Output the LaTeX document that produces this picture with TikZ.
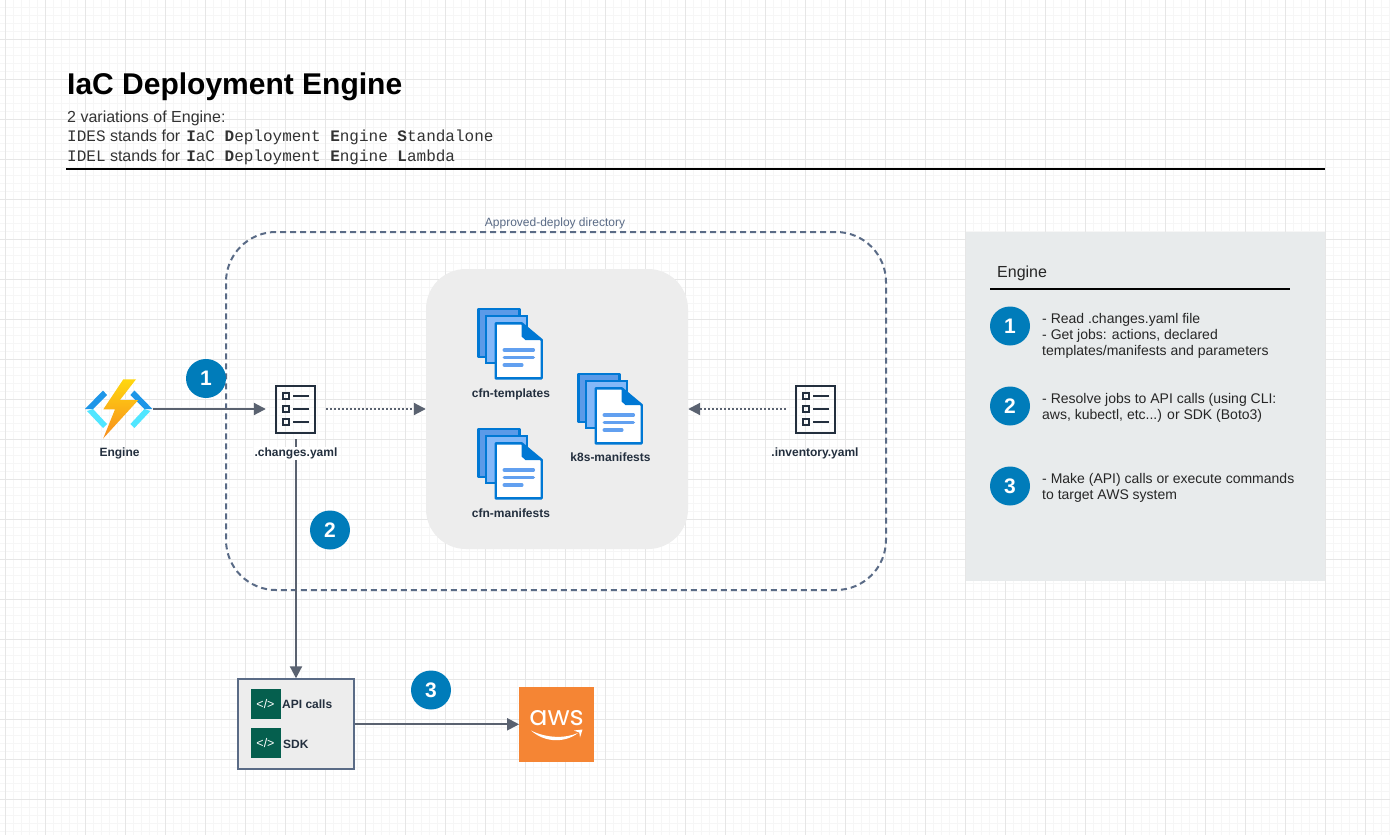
\documentclass[tikz,border=0pt]{standalone}
\usepackage{fontspec}
\setmainfont{Liberation Sans}
\setmonofont{Liberation Mono}
\newfontfamily\awsfont{Poppins}
\usetikzlibrary{arrows.meta,shapes.geometric}
\definecolor{gridmajor}{HTML}{E6E6E6}
\definecolor{gridminor}{HTML}{F6F6F6}
\definecolor{flowgray}{HTML}{5A6270}
\definecolor{slateblue}{HTML}{5A6B86}
\definecolor{inkdark}{HTML}{232F3E}
\definecolor{badgeblue}{HTML}{007CBA}
\definecolor{docblue}{HTML}{0078D4}
\definecolor{docback}{HTML}{5B9AE8}
\definecolor{docmid}{HTML}{84B8F8}
\definecolor{docline}{HTML}{62A0F0}
\definecolor{codegreen}{HTML}{055F4E}
\definecolor{awsorange}{HTML}{F58534}
\definecolor{panelgray}{HTML}{E8EBEC}
\definecolor{chevronlight}{HTML}{50E6FF}
\definecolor{chevrondark}{HTML}{1E96E8}
\definecolor{bolttop}{HTML}{FFD70F}
\definecolor{boltbottom}{HTML}{F78D1E}
\tikzset{
	flow/.style={draw=flowgray,line width=2pt,-{Triangle[length=12pt,width=12pt]}},
	flowdot/.style={flow,dash pattern=on 2pt off 2pt},
	badge/.style={ellipse,fill=badgeblue,text=white,inner sep=0pt,minimum width=40pt,minimum height=39pt,font=\fontsize{21}{24}\selectfont\bfseries},
	slot/.style={inner sep=0pt,minimum width=60pt,minimum height=60pt},
	iconlabel/.style={anchor=base,text=inkdark,inner sep=1pt,font=\fontsize{12}{14}\selectfont\bfseries},
	headtext/.style={anchor=base west,inner sep=0pt,font=\fontsize{16}{19}\selectfont},
	paneltext/.style={anchor=west,align=left,inner sep=0pt,text=black!85,font=\fontsize{14}{16}\selectfont},
	codebox/.style={fill=codegreen,text=white,inner sep=0pt,minimum size=30pt,font=\fontsize{12.5}{16}\selectfont},
	pics/checklist/.style={code={
		\draw [inkdark,line width=2pt] (-20,-23.5) rectangle (19,23.5);
		\foreach \y in {-13,0,13}{
			\draw [inkdark,line width=1.6pt] (-13,\y-3) rectangle (-7,\y+3);
			\draw [inkdark,line width=1.6pt] (-3,\y) -- (13,\y);
		}
	}},
	pics/docstack/.style={code={
		\draw [fill=docback,draw=docblue,line width=2.4pt,line join=round] (0,0) rectangle (41,48);
		\draw [fill=docmid,draw=docblue,line width=2.4pt] (7.7,6.7) rectangle (48.4,54);
		\draw [fill=white,draw=docblue,line width=2.4pt,line join=round] (17.4,14.3) -- (43.4,14.3) -- (63.4,31) -- (63.4,69.3) -- (17.4,69.3) -- cycle;
		\fill [docblue] (43.4,14.3) -- (63.4,31) -- (47,31) -- (43.4,27.5) -- cycle;
		\draw [docline,line width=3.5pt,line cap=round] (26,41) -- (55,41);
		\draw [docline,line width=3.5pt,line cap=round] (26,48.3) -- (55,48.3);
		\draw [docline,line width=3.5pt,line cap=round] (26,56) -- (43.5,56);
	}},
}

\begin{document}
\begin{tikzpicture}[x=1pt,y=-1pt]
	\useasboundingbox (0,0) rectangle (1390,835);
	\fill [white] (0,0) rectangle (1390,835);
	% Griglia
	\foreach \x in {5,13,...,1389} \draw [gridminor,line width=1pt] (\x,0) -- (\x,835);
	\foreach \y in {7.5,15.5,...,835} \draw [gridminor,line width=1pt] (0,\y) -- (1390,\y);
	\foreach \x in {5,45,...,1389} \draw [gridmajor,line width=1pt] (\x,0) -- (\x,835);
	\foreach \y in {39.5,79.5,...,835} \draw [gridmajor,line width=1pt] (0,\y) -- (1390,\y);

	% Titolo
	\node [anchor=base west,inner sep=0pt,font=\fontsize{30}{34}\selectfont\bfseries] (title) at (67,94.5) {IaC Deployment Engine};
	\node [headtext,text=black!80] (subtitle) at (67,122.3) {2 variations of Engine:};
	\node [headtext,text=black!80] (idesline) at (67,141.7) {\texttt{IDES} stands for\hspace{1.5pt} \texttt{\textbf{I}aC \textbf{D}eployment \textbf{E}ngine \textbf{S}tandalone}};
	\node [headtext,text=black!80] (idelline) at (67,161) {\texttt{IDEL} stands for\hspace{1.5pt} \texttt{\textbf{I}aC \textbf{D}eployment \textbf{E}ngine \textbf{L}ambda}};
	\draw [black,line width=2pt] (66,169) -- (1325,169);

	% Directory
	\node [draw=slateblue,line width=2pt,dash pattern=on 6pt off 4pt,rounded corners=50pt,inner sep=0pt,minimum width=660pt,minimum height=358pt] (deploydir) at (556,411) {};
	\node [text=slateblue,inner sep=0pt,font=\fontsize{12}{14}\selectfont] (deploylabel) at (555,223.5) {Approved-deploy directory};
	\node [fill=black!7,rounded corners=40pt,inner sep=0pt,minimum width=262pt,minimum height=280pt] (stuff) at (557,409) {};

	% Pannello
	\node [fill=panelgray,inner sep=0pt,minimum width=359pt,minimum height=349pt] (panel) at (1145.5,406.5) {};
	\node [anchor=base west,inner sep=0pt,text=black!85,font=\fontsize{16}{19}\selectfont] (paneltitle) at (997,277) {Engine};
	\draw [black,line width=2pt] (990,289) -- (1290,289);
	\node [badge] (panelone) at (1010,326) {1};
	\node [paneltext] (paneloneText) at (1042,335.5) {- Read .changes.yaml file\\- Get jobs: actions, declared\\templates/manifests and parameters};
	\node [badge] (paneltwo) at (1010,406) {2};
	\node [paneltext] (paneltwoText) at (1042,407.5) {- Resolve jobs to API calls (using CLI:\\aws, kubectl, etc...) or SDK (Boto3)};
	\node [badge] (panelthree) at (1010,486) {3};
	\node [paneltext] (panelthreeText) at (1042,487.5) {- Make (API) calls or execute commands\\to target AWS system};

	% Nodi
	\node [inner sep=0pt,minimum width=67.4pt,minimum height=60pt] (engine) at (118.7,409) {};
	\node [slot] (changes) at (296,409) {};
	\node [slot] (inventory) at (816,409) {};
	\node [draw=slateblue,fill=black!7,line width=2pt,inner sep=0pt,minimum width=115.6pt,minimum height=90pt] (apibox) at (296,724.3) {};
	\node [fill=awsorange,inner sep=0pt,minimum width=75pt,minimum height=75pt] (aws) at (556.8,724.3) {};

	% Frecce
	\draw [flow] (engine.east) -- (changes.west);
	\draw [flowdot] (changes.east) -- (stuff.west);
	\draw [flowdot] (inventory.west) -- (stuff.east);
	\draw [flow] (changes.south) -- (apibox.north);
	\draw [flow] (apibox.east) -- (aws.west);

	% Engine
	\fill [chevronlight] (87,411) -- (103,428) -- (107,424) -- (93,409) -- cycle;
	\fill [chevronlight] (150.4,411) -- (134.4,428) -- (130.4,424) -- (144.4,409) -- cycle;
	\fill [chevrondark] (85,409) -- (103,390.5) -- (107,395) -- (93,409) -- cycle;
	\fill [chevrondark] (152.4,409) -- (134.4,390.5) -- (130.4,395) -- (144.4,409) -- cycle;
	\shade [top color=bolttop,bottom color=boltbottom] (123.3,379.3) -- (103.3,409.3) -- (115,409.3) -- (103.3,438.3) -- (138.3,400) -- (120,400) -- (136,379.3) -- cycle;
	\node [iconlabel] (enginelabel) at (119.5,456.7) {Engine};

	% Liste
	\pic at (changes) {checklist};
	\pic at (inventory) {checklist};
	\node [iconlabel,fill=white] (changeslabel) at (296,456.7) {.changes.yaml};
	\node [iconlabel] (inventorylabel) at (815,456.7) {.inventory.yaml};

	% Documenti
	\pic at (478.3,309) {docstack};
	\node [iconlabel] (templateslabel) at (511,397.5) {cfn-templates};
	\pic at (478.3,429) {docstack};
	\node [iconlabel] (manifestslabel) at (511,517.5) {cfn-manifests};
	\pic at (578.3,374) {docstack};
	\node [iconlabel] (k8slabel) at (610.5,461.7) {k8s-manifests};

	% API
	\node [codebox] (apicode) at (265.5,704.3) {</>};
	\node [codebox] (sdkcode) at (265.5,743.3) {</>};
	\node [iconlabel,anchor=base west,inner sep=0pt] (apilabel) at (282,708.8) {API calls};
	\node [iconlabel,anchor=base west,inner sep=0pt] (sdklabel) at (283,748) {SDK};

	% AWS
	\node [anchor=base,text=white,inner sep=0pt,font=\fontsize{27}{30}\selectfont\awsfont] (awstext) at (556.5,725) {aws};
	\fill [white] (531,730.5) .. controls (545,743) and (565,743) .. (578,733) .. controls (565,738.5) and (547,738.5) .. (531,730.5) -- cycle;
	\fill [white] (574,730.5) -- (582.5,729.5) -- (580,737.5) -- (579.3,732.6) -- cycle;

	% Numeri
	\node [badge] (stepone) at (206,378.5) {1};
	\node [badge] (steptwo) at (330,530) {2};
	\node [badge] (stepthree) at (431,690) {3};
\end{tikzpicture}
\end{document}
